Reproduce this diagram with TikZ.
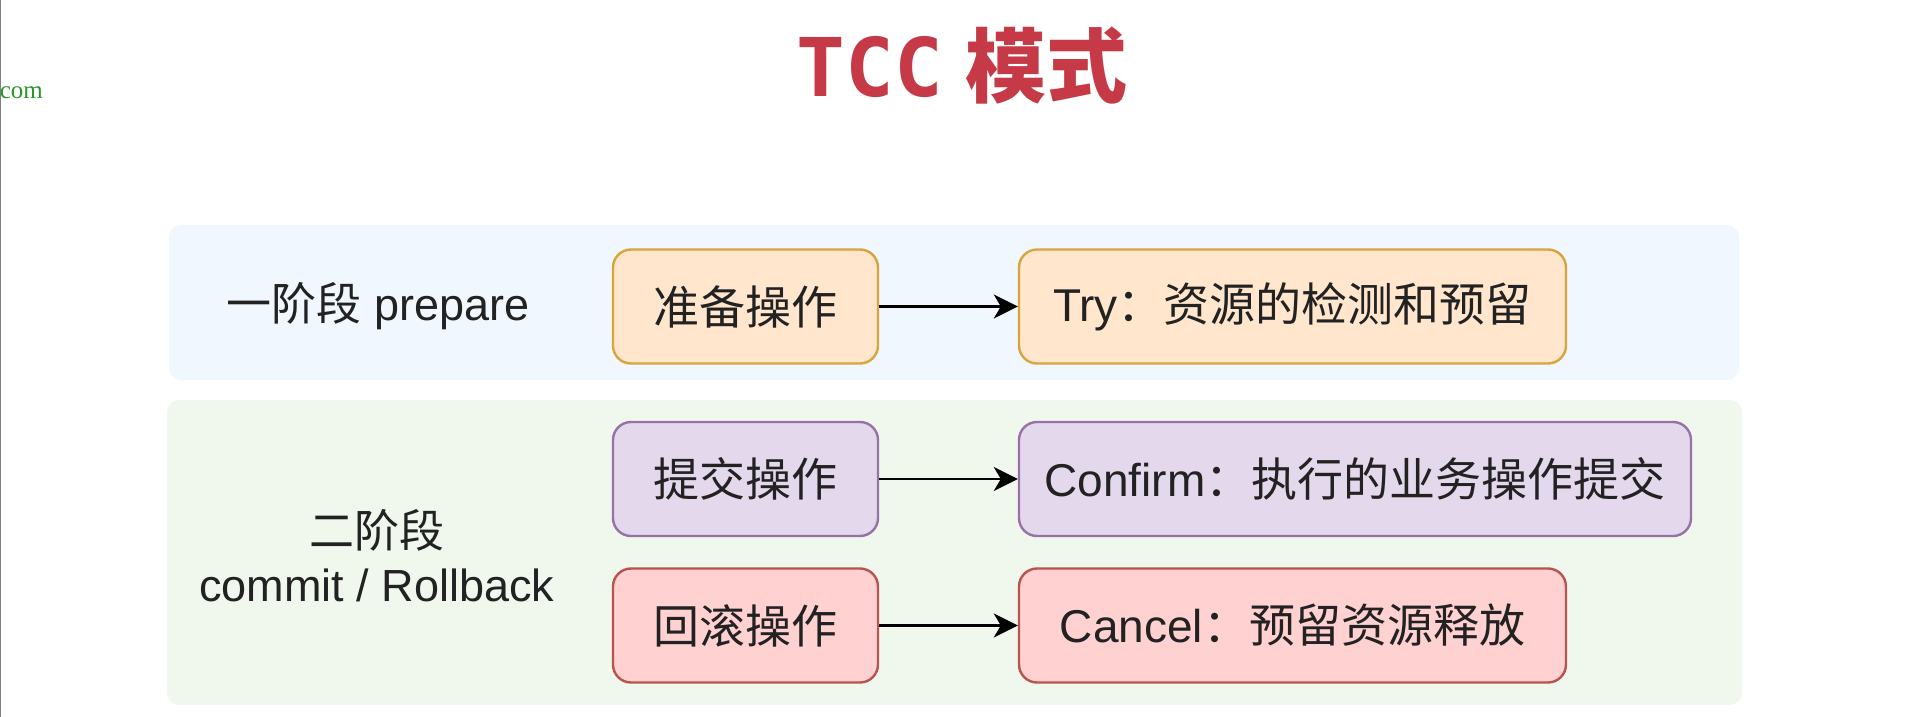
\documentclass[tikz,border=0pt]{standalone}
\usepackage{fontspec}
\usetikzlibrary{arrows.meta}
\setmainfont{Liberation Sans}
\newfontfamily\cjk{Noto Sans CJK SC}
\newfontfamily\monotitle{DejaVu Sans Mono}
\newfontfamily\sitefont{Liberation Serif}

\definecolor{tccred}{RGB}{197,58,70}
\definecolor{phaseblue}{RGB}{240,247,254}
\definecolor{phasegreen}{RGB}{240,247,237}
\definecolor{tryfill}{RGB}{255,230,204}
\definecolor{trydraw}{RGB}{214,166,60}
\definecolor{okfill}{RGB}{228,216,236}
\definecolor{okdraw}{RGB}{150,115,166}
\definecolor{undofill}{RGB}{255,209,208}
\definecolor{undodraw}{RGB}{184,84,80}
\definecolor{ink}{RGB}{34,34,34}
\definecolor{sitegreen}{RGB}{40,150,40}

\begin{document}
\begin{tikzpicture}[x=1pt,y=-1pt,
	opbox/.style={draw, line width=2.4pt, rounded corners=18pt, minimum height=114pt, text=ink, inner sep=0pt, font=\fontsize{46}{50}\selectfont},
	tryop/.style={opbox, fill=tryfill, draw=trydraw},
	okop/.style={opbox, fill=okfill, draw=okdraw},
	undoop/.style={opbox, fill=undofill, draw=undodraw},
	phaselabel/.style={text=ink, align=center, font=\fontsize{45}{54}\selectfont},
	flow/.style={-{Stealth[length=24pt,width=24pt,inset=7pt]}, line width=2.8pt}]
			\useasboundingbox (0,0) rectangle (1920,717);

			% Page edge and clipped link
			\draw[gray, line width=2pt] (0,0) -- (0,717);
			\node[text=sitegreen, font=\fontsize{25}{28}\sitefont, anchor=base east, inner sep=0pt] (site) at (43,99) {com};

			% Title
			\node[text=tccred, font=\fontsize{81}{90}\selectfont\bfseries] (title) at (962,66) {{\monotitle TCC} {\cjk 模式}};

			% Phase panels
			\fill[phaseblue, rounded corners=12pt] (169,225) rectangle (1739,380);
			\fill[phasegreen, rounded corners=12pt] (167,400) rectangle (1742,705);

			% Phase labels
			\node[phaselabel] (one) at (378,306) {{\cjk 一阶段} prepare};
			\node[phaselabel] (two) at (377,556) {{\cjk 二阶段}\\commit / Rollback};

			% Operations
			\node[tryop, minimum width=265pt] (prep) at (745.5,306.5) {\cjk 准备操作};
			\node[tryop, minimum width=547pt] (try) at (1292.5,306.5) {Try{\cjk ：资源的检测和预留}};
			\node[okop, minimum width=265pt] (commit) at (745.5,479) {\cjk 提交操作};
			\node[okop, minimum width=672pt] (confirm) at (1355,479) {Confirm{\cjk ：执行的业务操作提交}};
			\node[undoop, minimum width=265pt] (rollback) at (745.5,625.5) {\cjk 回滚操作};
			\node[undoop, minimum width=547pt] (cancel) at (1292.5,625.5) {Cancel{\cjk ：预留资源释放}};

			% Arrows
			\draw[flow] (prep) -- (try);
			\draw[flow] (commit) -- (confirm);
			\draw[flow] (rollback) -- (cancel);

		\end{tikzpicture}
\end{document}
